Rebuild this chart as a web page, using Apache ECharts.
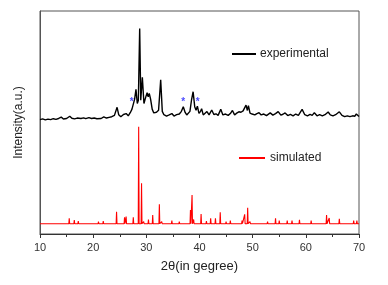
<!DOCTYPE html>
<html>
<head>
<meta charset="utf-8">
<script src="https://cdn.jsdelivr.net/npm/echarts@6/dist/echarts.min.js"></script>
<style>
  html, body { margin: 0; padding: 0; background: #fff; }
  #main { width: 388px; height: 285px; }
</style>
</head>
<body>
<div id="main"></div>
<script>
// experimental pattern (2theta, intensity offset upward)
var expX = [10.0,10.5,11.0,11.5,12.0,12.5,13.0,13.5,14.0,14.4,15.0,15.6,16.0,16.5,17.0,17.3,17.7,18.2,18.6,19.2,
  19.7,20.2,20.7,21.0,21.5,22.0,22.5,23.0,23.5,24.0,24.5,24.8,25.2,25.7,26.2,26.6,27.0,27.3,27.6,27.8,
  28.05,28.3,28.5,28.75,28.95,29.25,29.55,29.9,30.15,30.35,30.55,30.8,31.1,31.4,31.9,32.3,32.7,33.0,33.3,33.8,
  34.3,34.8,35.2,35.7,36.2,36.6,36.95,37.3,37.6,37.9,38.2,38.5,38.8,39.1,39.35,39.6,39.9,40.2,40.4,40.7,
  41.0,41.4,41.8,42.3,42.7,43.1,43.5,44.0,44.4,44.9,45.4,45.8,46.2,46.6,47.0,47.4,47.8,48.2,48.5,48.75,
  49.0,49.2,49.5,49.9,50.4,50.8,51.2,51.6,52.1,52.6,53.3,53.8,54.3,54.8,55.3,55.7,56.1,56.6,57.1,57.6,
  58.1,58.6,59.3,59.8,60.3,60.8,61.2,61.6,62.1,62.6,63.1,63.6,64.2,64.6,65.1,65.6,66.3,66.8,67.3,67.8,
  68.3,68.8,69.2,69.5,70.0];
var expY = [51.3,51.6,51.2,51.5,51.3,51.7,51.4,51.8,52.4,51.6,51.8,52.8,51.9,51.6,52.0,52.6,51.8,52.1,51.7,52.2,
  51.8,52.0,51.7,52.4,51.8,52.5,52.0,52.3,52.6,53.2,56.8,53.5,52.6,53.6,54.0,53.0,54.5,56.0,55.5,60.5,
  64.9,58.5,60.0,92.2,60.0,70.3,58.5,61.5,63.4,61.5,63.0,60.5,56.0,54.3,54.6,55.5,69.1,55.0,53.5,52.9,
  53.4,54.0,52.9,53.5,53.8,55.0,57.1,54.5,53.4,54.1,55.0,60.1,63.8,57.1,55.5,57.3,54.1,55.0,56.2,53.4,
  54.0,54.9,53.4,55.6,53.6,53.9,53.2,55.9,53.4,53.8,53.2,54.0,55.4,53.4,54.2,54.8,54.6,55.2,55.4,57.8,
  55.4,57.6,54.2,53.8,53.4,54.0,54.4,53.4,53.8,53.1,54.3,53.3,54.0,54.9,53.3,53.7,54.3,53.1,53.6,53.0,
  53.8,53.2,55.9,53.5,53.0,53.6,53.2,54.4,53.0,53.5,53.0,53.5,54.7,53.4,53.0,53.5,54.8,53.2,52.6,53.0,
  52.6,53.0,52.8,53.8,52.7];

// simulated pattern: peak positions and heights on a flat baseline
var simBase = 4.6;
var simPos = [15.5,16.45,17.2,18.9,21.0,21.9,24.4,25.9,26.2,27.55,28.56,29.1,29.5,30.4,31.2,32.45,32.9,34.8,36.2,38.3,
  38.6,38.9,40.3,41.3,42.1,43.0,43.9,45.0,45.8,48.0,48.5,49.06,49.5,52.8,54.3,55.0,56.5,57.4,58.8,61.0,
  63.9,64.4,66.3,69.0,69.6];
var simVal = [7.0,6.3,5.8,5.3,5.6,5.8,10.0,7.5,7.8,7.5,48.1,22.7,5.6,6.5,8.5,13.3,5.6,6.0,5.6,10.8,
  17.5,6.5,9.0,5.8,7.0,7.0,9.7,5.6,6.0,6.0,8.8,11.8,5.6,5.6,7.0,6.0,6.0,6.0,6.4,6.0,
  8.5,7.2,6.8,6.0,6.0];

// marked (*) reflections
var starPos = [27.25, 36.95, 39.65];
var starVal = [59.3, 59.3, 59.3];

var xTicks = [10, 20, 30, 40, 50, 60, 70];

var expData = [];
for (var i = 0; i < expX.length; i++) {
  expData.push([expX[i], expY[i]]);
}

var simData = [[10, simBase]];
for (var i = 0; i < simPos.length; i++) {
  simData.push([simPos[i] - 0.08, simBase]);
  simData.push([simPos[i], simVal[i]]);
  simData.push([simPos[i] + 0.08, simBase]);
}
simData.push([70, simBase]);

var starData = [];
for (var i = 0; i < starPos.length; i++) {
  starData.push([starPos[i], starVal[i]]);
}

var myChart = echarts.init(document.getElementById('main'));

var option = {
  animation: false,
  textStyle: { fontFamily: 'Liberation Sans, Arial, sans-serif' },
  grid: {
    left: 40, right: 29, top: 11, bottom: 51,
    show: true, borderColor: '#555', borderWidth: 1
  },
  legend: [
    {
      data: ['experimental'], left: 227, top: 43,
      icon: 'rect', itemWidth: 24, itemHeight: 2, itemGap: 4,
      textStyle: { fontSize: 12, color: '#222', padding: [0, 0, 0, -1] }
    },
    {
      data: ['simulated'], left: 234, top: 147,
      icon: 'rect', itemWidth: 26, itemHeight: 2,
      textStyle: { fontSize: 12, color: '#222' }
    }
  ],
  xAxis: {
    type: 'value',
    min: 10, max: 70, interval: 10,
    name: '2θ(in gegree)',
    nameLocation: 'middle',
    nameGap: 26,
    nameTextStyle: { fontSize: 13, color: '#222' },
    axisLine: { lineStyle: { color: '#333', width: 1 } },
    axisTick: { length: 4, lineStyle: { color: '#333' } },
    minorTick: { show: true, splitNumber: 2, length: 3, lineStyle: { color: '#333' } },
    axisLabel: {
      margin: 8, fontSize: 11, color: '#333',
      customValues: xTicks
    },
    splitLine: { show: false }
  },
  yAxis: {
    type: 'value',
    min: 0, max: 100,
    name: 'Intensity(a.u.)',
    nameLocation: 'middle',
    nameRotate: 90,
    nameGap: 15,
    nameTextStyle: { fontSize: 12, color: '#222' },
    axisLine: { show: true, lineStyle: { color: '#555' } },
    axisTick: { show: false },
    axisLabel: { show: false },
    splitLine: { show: false }
  },
  series: [
    {
      name: 'experimental',
      type: 'line',
      data: expData,
      symbol: 'none',
      lineStyle: { color: '#000', width: 1.4 },
      itemStyle: { color: '#000' }
    },
    {
      name: 'simulated',
      type: 'line',
      data: simData,
      symbol: 'none',
      lineStyle: { color: '#ff0000', width: 1.1 },
      itemStyle: { color: '#ff0000' }
    },
    {
      name: 'stars',
      type: 'scatter',
      data: starData,
      symbolSize: 0,
      label: {
        show: true, position: 'inside', formatter: '*',
        color: '#2020ff', fontSize: 10, fontWeight: 'bold'
      }
    }
  ]
};

myChart.setOption(option);
</script>
</body>
</html>
